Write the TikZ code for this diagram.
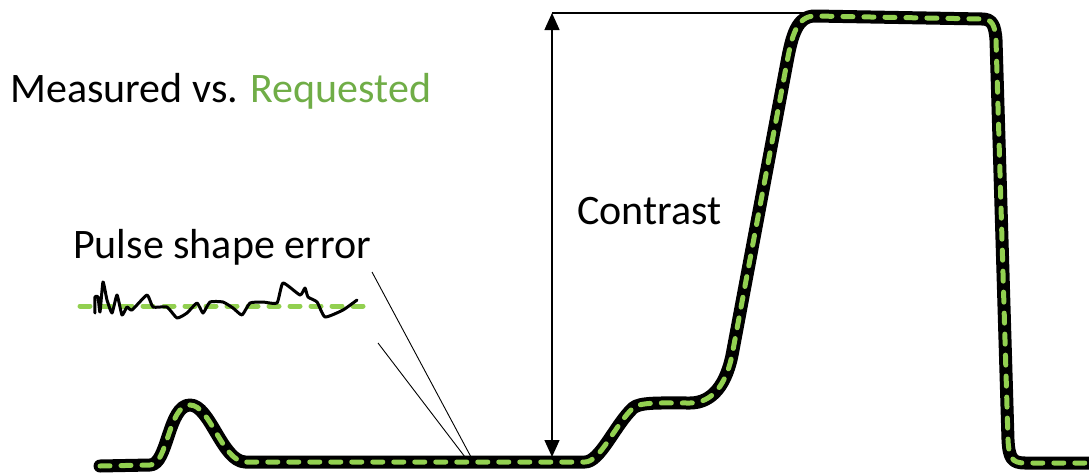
\documentclass[tikz,border=0pt]{standalone}
\usepackage{fontspec}
\setmainfont{Carlito}
\usetikzlibrary{arrows.meta}
\definecolor{lgreen}{HTML}{92D050}
\definecolor{tgreen}{HTML}{70AD47}
\tikzset{
  lbl/.style={inner sep=0pt, anchor=base west, font=\fontsize{42}{48}\selectfont},
  outerline/.style={line width=13pt, black, line cap=round, line join=round},
  innerline/.style={line width=5pt, lgreen, line cap=round, dash pattern=on 10pt off 11pt},
  noise/.style={line width=3pt, black, line cap=round, line join=round},
  pointer/.style={line width=0.9pt, black},
  dim/.style={line width=1.4pt, black, {Triangle[width=15pt,length=17pt]}-{Triangle[width=15pt,length=17pt]}}
}
\begin{document}
\begin{tikzpicture}[x=1pt,y=-1pt]
\useasboundingbox (0,0) rectangle (1089,474);
% labels
\node[lbl] (mvr) at (10,102) {Measured vs. \textcolor{tgreen}{Requested}};
\node[lbl] (pse) at (73,258) {Pulse shape error};
\node[lbl] (con) at (577,224) {Contrast};
% main curve
\def\curvepath{(100,466) -- (150,465) .. controls (168,465) and (168,405) .. (190,405) .. controls (210,405) and (222,461) .. (245,462) -- (585,462) .. controls (600,462) and (615,425) .. (633,408) .. controls (640,402) and (660,403) .. (690,403) .. controls (712,403) and (727,385) .. (733,350) -- (787,62) .. controls (792,35) and (797,16) .. (815,16) -- (982,19) .. controls (992,19) and (995,25) .. (996,40) -- (1008,440) .. controls (1009,458) and (1012,463) .. (1025,463) -- (1089,463)}
\draw[outerline] \curvepath;
\draw[innerline] \curvepath;
% pulse shape error sketch
\coordinate (gl) at (80,306);
\coordinate (gr) at (365,306);
\draw[innerline] (gl) -- (gr);
\draw[noise] plot[smooth, tension=0.3] coordinates {(95,313) (95,297) (98,297) (100,312) (103,282) (107,300) (112,313) (117,295) (122,315) (127,307) (132,310) (147,295) (153,307) (167,307) (177,318) (187,313) (197,303) (203,313) (210,302) (223,302) (233,308) (242,315) (250,303) (263,302) (277,303) (283,283) (300,295) (305,288) (308,297) (317,302) (325,317) (343,310) (357,300)};
% pointer lines
\coordinate (p1s) at (372,272);
\coordinate (p1e) at (471,457);
\coordinate (p2s) at (378,343);
\coordinate (p2e) at (465,457);
\draw[pointer] (p1s) -- (p1e);
\draw[pointer] (p2s) -- (p2e);
% contrast dimension
\coordinate (dt) at (552,13);
\coordinate (db) at (552,457);
\coordinate (hr) at (808,13);
\draw[line width=2.6pt] (dt) -- (hr);
\draw[dim] (dt) -- (db);
\end{tikzpicture}
\end{document}
